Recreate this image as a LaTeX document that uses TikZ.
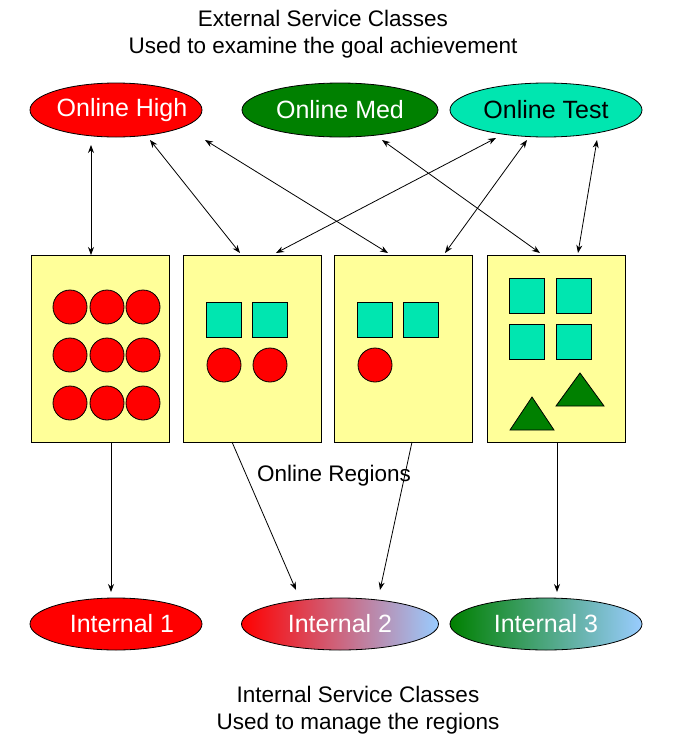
\documentclass[tikz,border=0pt]{standalone}
\usepackage{fontspec}
\setmainfont{Liberation Sans}
\usetikzlibrary{shapes.geometric,arrows.meta}
\definecolor{aq}{HTML}{00E6B0}
\definecolor{dg}{HTML}{008000}
\definecolor{yl}{HTML}{FFFF99}
\definecolor{lb}{HTML}{99CCFF}
\newcommand\zb[1]{\makebox[0pt]{#1}}
\begin{document}
\begin{tikzpicture}[x=1pt,y=-1pt,line width=0.8pt,
 ell/.style={ellipse,draw=black,minimum width=172pt,minimum height=54pt,inner sep=0pt,font=\fontsize{25}{30}\selectfont,text=white},
 box/.style={draw=black,fill=yl,minimum width=138pt,minimum height=187pt,inner sep=0pt},
 dot/.style={circle,draw=black,fill=red,minimum size=34pt,inner sep=0pt},
 sq/.style={draw=black,fill=aq,minimum size=35pt,inner sep=0pt},
 tri/.style={draw=black,fill=dg},
 ar/.style={-{Stealth[length=8pt,width=6pt]},black},
 dar/.style={{Stealth[length=8pt,width=6pt]}-{Stealth[length=8pt,width=6pt]},black},
 txt/.style={font=\fontsize{22.5}{27}\selectfont,align=center}]
\useasboundingbox (0,0) rectangle (681,750);
\node[txt] (t1) at (323,34) {External Service Classes\\Used to examine the goal achievement};
\node[txt] (t2) at (358,710) {Internal Service Classes\\Used to manage the regions};
\node[ell,fill=red] (oh) at (116,110) {\zb{\hspace*{12pt}Online High}};
\node[ell,fill=dg,minimum width=196pt] (om) at (340,110) {\zb{Online Med}};
\node[ell,fill=aq,text=black,minimum width=192pt] (ot) at (546,110) {\zb{Online Test}};
\node[ell,fill=red,minimum height=52pt] (i1) at (116,624) {\zb{\hspace*{12pt}Internal 1}};
\node[ell,left color=red,right color=lb,minimum width=197pt,minimum height=52pt] (i2) at (340,624) {\zb{Internal 2}};
\node[ell,left color=dg,right color=lb,minimum width=192pt,minimum height=52pt] (i3) at (546,624) {\zb{Internal 3}};
\node[box] (b1) at (100.5,348.5) {};
\node[box] (b2) at (252.5,348.5) {};
\node[box] (b3) at (403.5,348.5) {};
\node[box] (b4) at (556,348.5) {};
\foreach \y [count=\j] in {307,355,403}{\foreach \x [count=\i] in {70,107,143}{\node[dot] (c\i\j) at (\x,\y) {};}}
\node[sq] (s21) at (224,320) {}; \node[sq] (s22) at (270,320) {};
\node[dot] (d21) at (224,365) {}; \node[dot] (d22) at (270,365) {};
\node[sq] (s31) at (375,320) {}; \node[sq] (s32) at (421,320) {};
\node[dot] (d31) at (375,365) {};
\node[sq] (s41) at (527,296) {}; \node[sq] (s42) at (574,296) {};
\node[sq] (s43) at (527,342) {}; \node[sq] (s44) at (574,342) {};
\draw[tri] (510,430) -- (532,397) -- (554,430) -- cycle;
\draw[tri] (556,406) -- (580,373) -- (604,406) -- cycle;
\node[txt] (reg) at (334,476) {Online Regions};
\coordinate (a1) at (91,145); \coordinate (a1e) at (91,255);
\coordinate (a2) at (150,140); \coordinate (a2e) at (240,253);
\coordinate (a3) at (205,140); \coordinate (a3e) at (388,253);
\coordinate (a4) at (496,138); \coordinate (a4e) at (276,253);
\coordinate (a5) at (527,140); \coordinate (a5e) at (445,253);
\coordinate (a6) at (382,140); \coordinate (a6e) at (540,253);
\coordinate (a7) at (597,140); \coordinate (a7e) at (578,253);
\foreach \k in {1,...,7}{\draw[dar] (a\k) -- (a\k e);}
\coordinate (p1) at (111,442); \coordinate (p1e) at (111,592);
\coordinate (p2) at (232,442); \coordinate (p2e) at (296,590);
\coordinate (p3) at (412,442); \coordinate (p3e) at (380,590);
\coordinate (p4) at (557,442); \coordinate (p4e) at (557,592);
\foreach \k in {1,...,4}{\draw[ar] (p\k) -- (p\k e);}
\end{tikzpicture}
\end{document}
